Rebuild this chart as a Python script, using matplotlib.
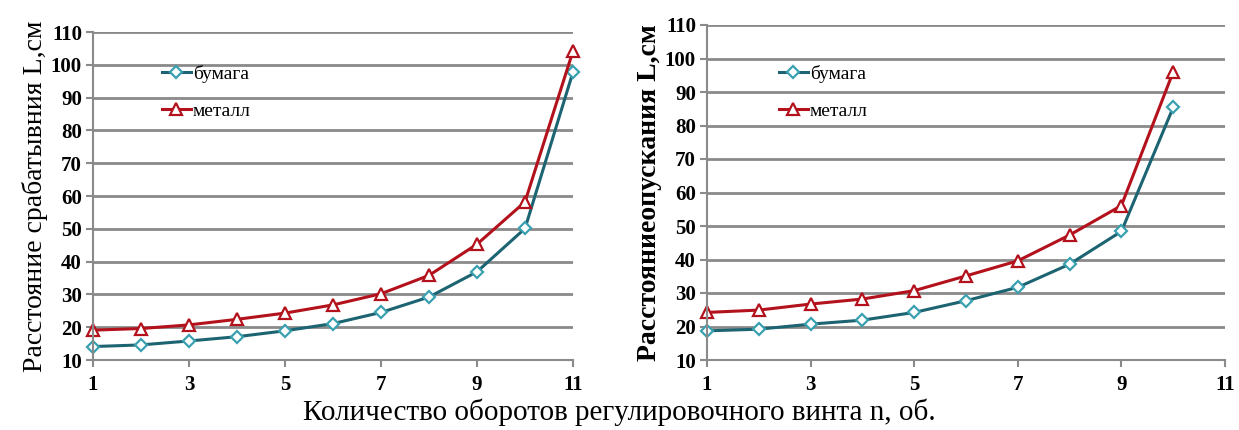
import matplotlib
matplotlib.use("Agg")
import matplotlib.pyplot as plt

# Data
x_left = [1, 2, 3, 4, 5, 6, 7, 8, 9, 10, 11]
paper_left = [14.1, 14.6, 15.8, 17.1, 18.9, 21.1, 24.5, 29.2, 36.9, 50.1, 97.8]
metal_left = [19.1, 19.6, 20.7, 22.4, 24.3, 26.8, 30.2, 35.8, 45.3, 58.2, 104.2]

x_right = [1, 2, 3, 4, 5, 6, 7, 8, 9, 10]
paper_right = [18.7, 19.2, 20.7, 21.9, 24.2, 27.7, 31.7, 38.6, 48.4, 85.4]
metal_right = [24.2, 24.9, 26.7, 28.2, 30.7, 35.1, 39.6, 47.3, 56.1, 96.0]

x_ticks = [1, 3, 5, 7, 9, 11]
y_ticks = [10, 20, 30, 40, 50, 60, 70, 80, 90, 100, 110]
series_names = ["бумага", "металл"]
ylabel_left = "Расстояние срабатывния L,см"
ylabel_right = "Расстояниеопускания L,см"
xlabel = "Количество оборотов регулировочного винта n, об."

plt.rcParams['font.family'] = ['Liberation Serif', 'DejaVu Serif']

W, H = 1239, 430
fig = plt.figure(figsize=(W / 100, H / 100), dpi=100)

teal_line = "#1d6472"
teal_mark = "#3aa0b0"
red_line = "#b3121c"
grid_c = "#8a8a8a"

def make_ax(l, r, t, b):
    return fig.add_axes([l / W, 1 - b / H, (r - l) / W, (b - t) / H])

axL = make_ax(93, 573, 32, 360)
axR = make_ax(707, 1225, 25, 360)

for ax, xs, p, m, ylab, yw, legpos in [
        (axL, x_left, paper_left, metal_left, ylabel_left, 'normal', (148, 51)),
        (axR, x_right, paper_right, metal_right, ylabel_right, 'bold', (765, 51))]:
    ax.set_xlim(1, 11)
    ax.set_ylim(10, 110)
    ax.set_yticks(y_ticks)
    ax.set_xticks(x_ticks)
    ax.yaxis.grid(True, color=grid_c, linewidth=2.0)
    ax.set_axisbelow(True)
    for s in ['top', 'right']:
        ax.spines[s].set_visible(False)
    for s in ['left', 'bottom']:
        ax.spines[s].set_color(grid_c)
        ax.spines[s].set_linewidth(1.5)
    ax.tick_params(axis='both', direction='out', length=5, width=1.5, color=grid_c,
                   labelsize=15, pad=3)
    ax.tick_params(axis='x', pad=6)
    for lab in ax.get_xticklabels() + ax.get_yticklabels():
        lab.set_fontweight('bold')
    ax.plot(xs, p, color=teal_line, linewidth=2.2, marker='D', markersize=6.5,
            markerfacecolor='white', markeredgecolor=teal_mark, markeredgewidth=1.6,
            label=series_names[0], clip_on=False)
    ax.plot(xs, m, color=red_line, linewidth=2.2, marker='^', markersize=9,
            markerfacecolor='white', markeredgecolor=red_line, markeredgewidth=1.6,
            label=series_names[1], clip_on=False)
    ax.set_ylabel(ylab, fontsize=20, labelpad=2, fontweight=yw)
    ax.legend(loc='upper left', bbox_to_anchor=(legpos[0] / W, 1 - legpos[1] / H),
              bbox_transform=fig.transFigure, frameon=False,
              fontsize=14, handlelength=1.5, handletextpad=0.1,
              labelspacing=1.0, borderpad=0.2)

fig.text(0.5, 1 - 412 / H, xlabel, ha='center', va='center', fontsize=21)

fig.savefig("out.png", dpi=100, facecolor='white')
